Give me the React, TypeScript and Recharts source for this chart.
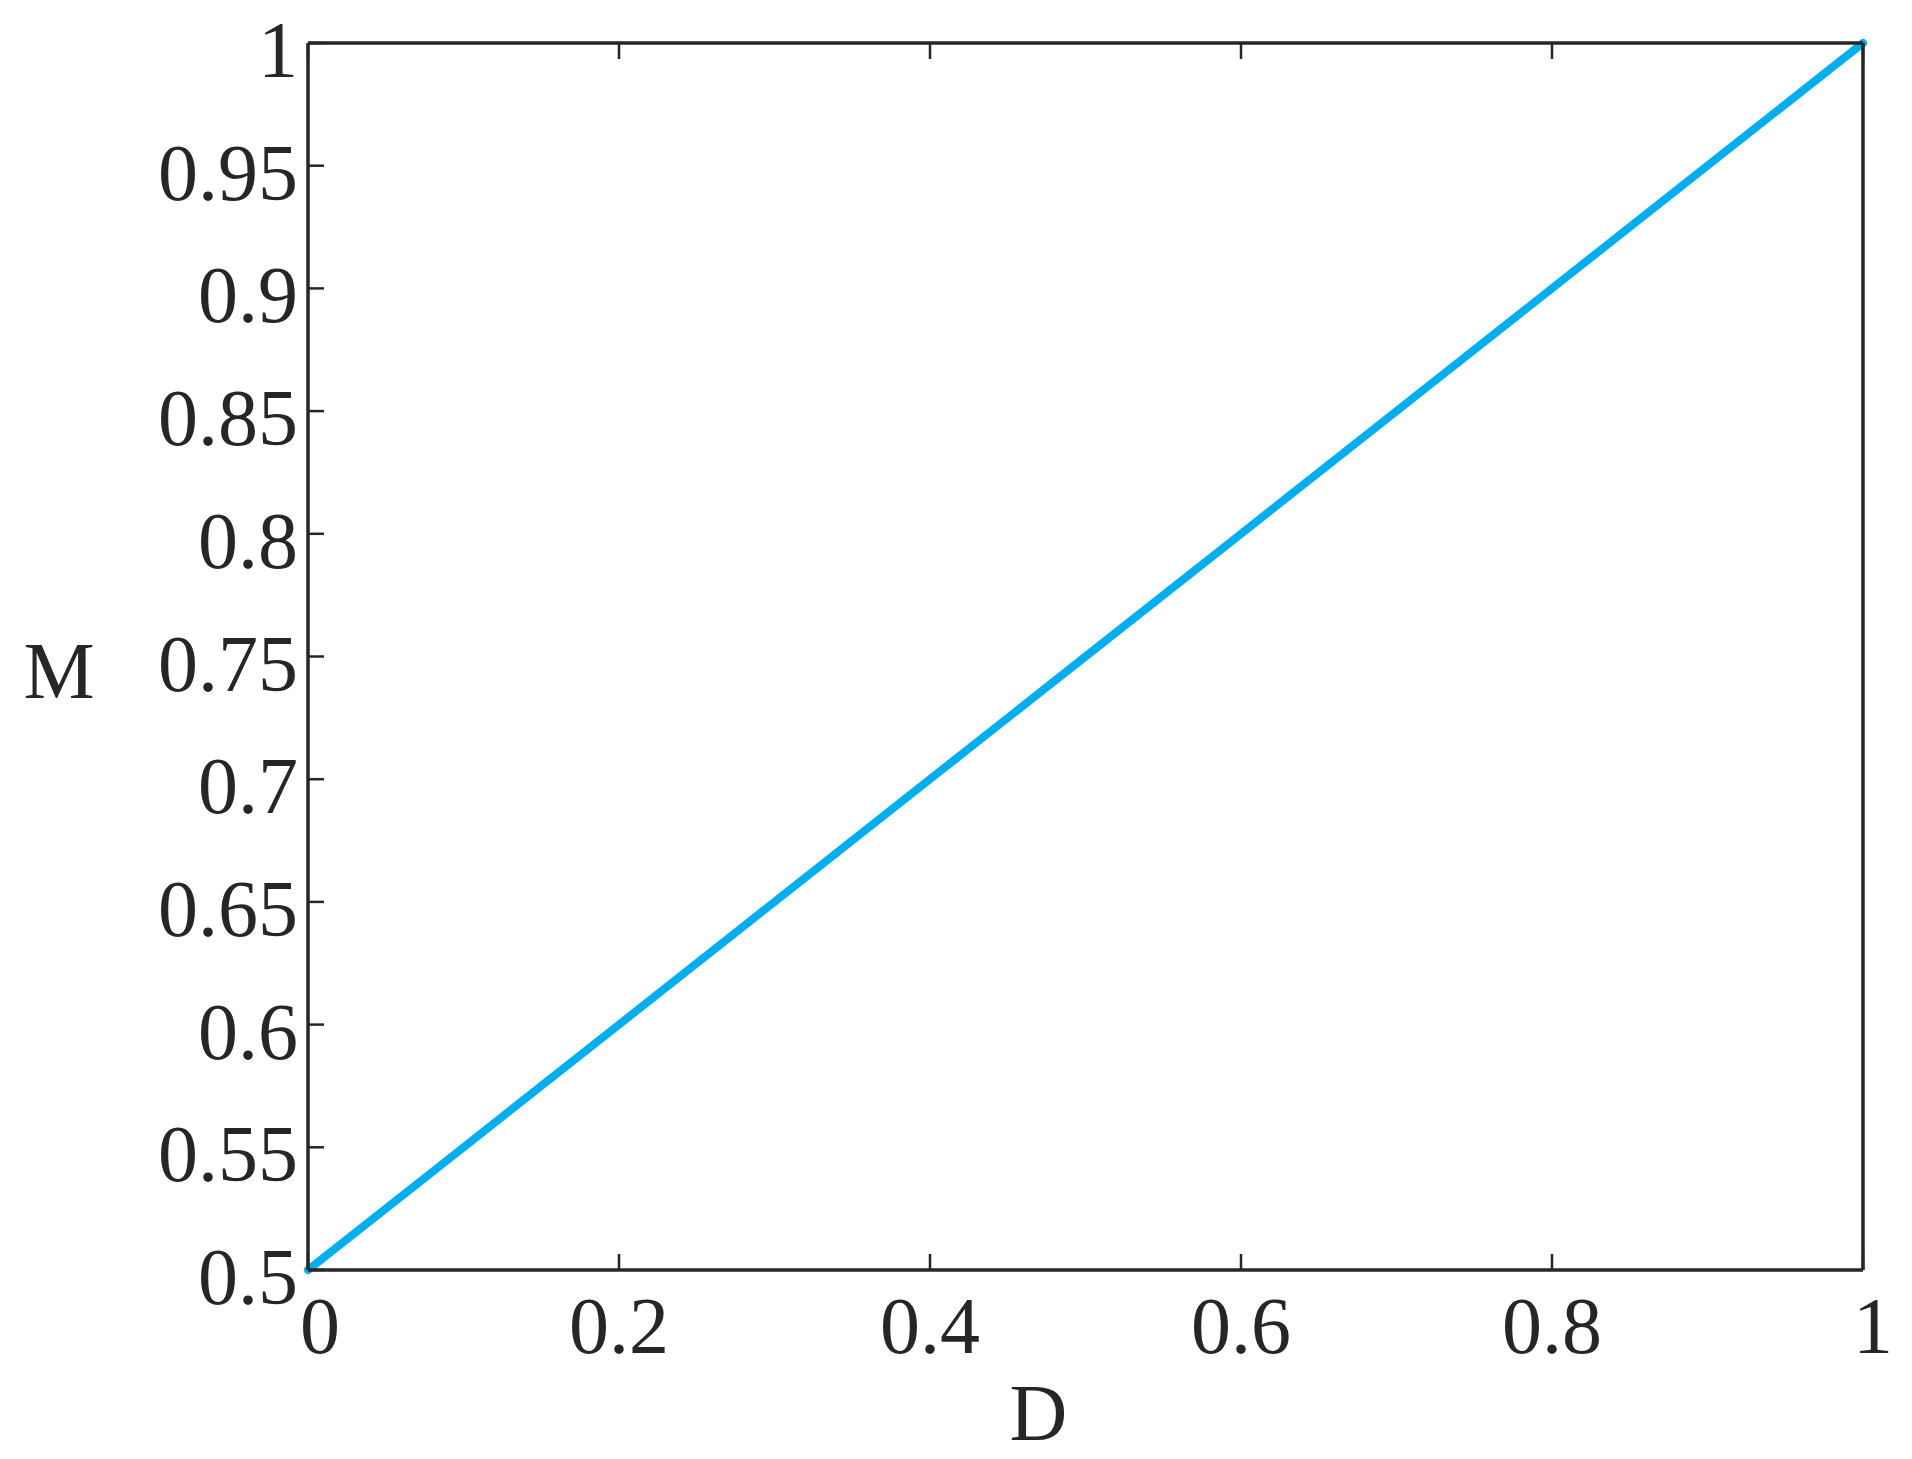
import { LineChart, Line, XAxis, YAxis } from 'recharts';

const dValues = [0, 0.1, 0.2, 0.3, 0.4, 0.5, 0.6, 0.7, 0.8, 0.9, 1];
const mValues = [0.5, 0.55, 0.6, 0.65, 0.7, 0.75, 0.8, 0.85, 0.9, 0.95, 1];
const xTicks = [0, 0.2, 0.4, 0.6, 0.8, 1];
const yTicks = [0.5, 0.55, 0.6, 0.65, 0.7, 0.75, 0.8, 0.85, 0.9, 0.95, 1];

const INK = '#262626';
const LINE = '#00AEEF';
const FONT = '"Liberation Serif", "DejaVu Serif", serif';
const FS = 80;

const data = dValues.map((d, i) => ({ d, m: mValues[i] }));

const BottomTick = (props: any) => {
  const { x, y, payload } = props;
  const dx = payload.value === 0 ? 12 : payload.value === 1 ? 10 : 0;
  return (
    <g>
      <line x1={x} y1={y} x2={x} y2={y - 16} stroke={INK} strokeWidth={2.5} />
      <text x={x + dx} y={y + 83} textAnchor="middle" fill={INK} fontSize={FS} fontFamily={FONT}>
        {String(payload.value)}
      </text>
    </g>
  );
};

const LeftTick = (props: any) => {
  const { x, y, payload } = props;
  return (
    <g>
      <line x1={x} y1={y} x2={x + 16} y2={y} stroke={INK} strokeWidth={2.5} />
      <text x={x - 10} y={y + 34} textAnchor="end" fill={INK} fontSize={FS} fontFamily={FONT}>
        {String(payload.value)}
      </text>
    </g>
  );
};

const TopTick = (props: any) => {
  const { x, y } = props;
  return <line x1={x} y1={y} x2={x} y2={y + 16} stroke={INK} strokeWidth={2.5} />;
};

const RightTick = (props: any) => {
  const { x, y } = props;
  return <line x1={x} y1={y} x2={x - 16} y2={y} stroke={INK} strokeWidth={2.5} />;
};

const YLabel = ({ viewBox }: any) => (
  <text
    x={viewBox.x + 59}
    y={viewBox.y + viewBox.height / 2 + 41}
    textAnchor="middle"
    fill={INK}
    fontSize={FS}
    fontFamily={FONT}
  >
    M
  </text>
);

const XLabel = ({ viewBox }: any) => (
  <text
    x={viewBox.x + viewBox.width / 2 - 47}
    y={viewBox.y + 170}
    textAnchor="middle"
    fill={INK}
    fontSize={FS}
    fontFamily={FONT}
  >
    D
  </text>
);

const axisStroke = { stroke: INK, strokeWidth: 3.5 };

export default function App() {
  return (
    <div style={{ position: 'absolute', left: 0, top: 0, width: 1912, height: 1459, background: '#fff' }}>
      <LineChart width={1912} height={1459} data={data} margin={{ top: 42, right: 48, left: 0, bottom: 0 }}>
        <XAxis
          xAxisId="b"
          dataKey="d"
          type="number"
          domain={[0, 1]}
          ticks={xTicks}
          interval={0}
          height={189}
          tickSize={0}
          tickMargin={0}
          tickLine={false}
          axisLine={axisStroke}
          tick={<BottomTick />}
          label={<XLabel />}
        />
        <XAxis
          xAxisId="t"
          orientation="top"
          dataKey="d"
          type="number"
          domain={[0, 1]}
          ticks={xTicks}
          interval={0}
          height={1}
          tickSize={0}
          tickMargin={0}
          tickLine={false}
          axisLine={axisStroke}
          tick={<TopTick />}
        />
        <YAxis
          yAxisId="l"
          type="number"
          domain={[0.5, 1]}
          ticks={yTicks}
          interval={0}
          width={308}
          tickSize={0}
          tickMargin={0}
          tickLine={false}
          axisLine={axisStroke}
          tick={<LeftTick />}
          label={<YLabel />}
        />
        <YAxis
          yAxisId="r"
          orientation="right"
          type="number"
          domain={[0.5, 1]}
          ticks={yTicks}
          interval={0}
          width={1}
          tickSize={0}
          tickMargin={0}
          tickLine={false}
          axisLine={axisStroke}
          tick={<RightTick />}
        />
        <Line
          xAxisId="b"
          yAxisId="l"
          type="linear"
          dataKey="m"
          stroke={LINE}
          strokeWidth={8}
          strokeLinecap="round"
          dot={false}
          activeDot={false}
          isAnimationActive={false}
        />
      </LineChart>
    </div>
  );
}
